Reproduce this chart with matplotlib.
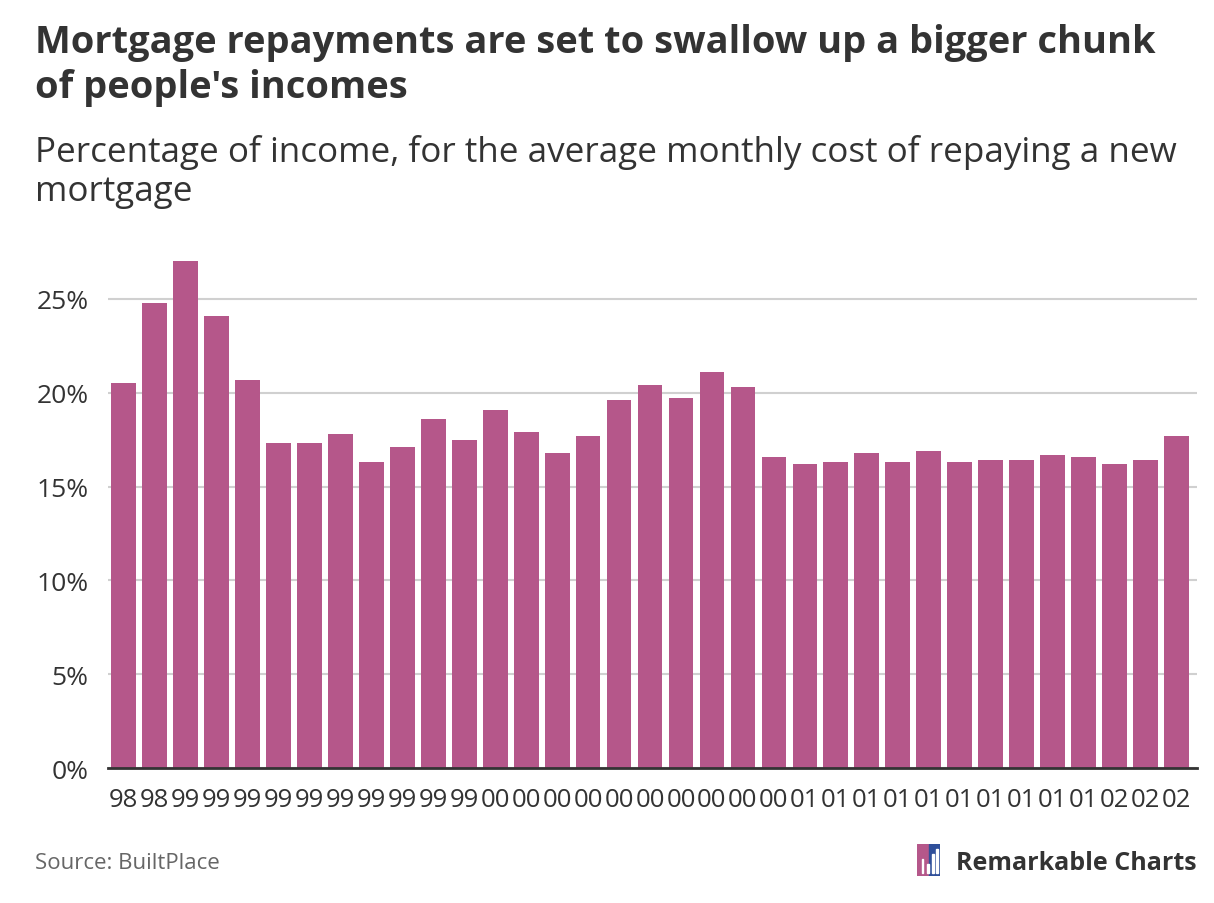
import matplotlib.pyplot as plt
from matplotlib.patches import Rectangle

# Data
years = list(range(1988, 2023))
year_labels = [str(y)[1:3] for y in years]
share = [20.5, 24.8, 27.0, 24.1, 20.7, 17.3, 17.3, 17.8, 16.3, 17.1,
         18.6, 17.5, 19.1, 17.9, 16.8, 17.7, 19.6, 20.4, 19.7, 21.1,
         20.3, 16.6, 16.2, 16.3, 16.8, 16.3, 16.9, 16.3, 16.4, 16.4,
         16.7, 16.6, 16.2, 16.4, 17.7]
y_ticks = [0, 5, 10, 15, 20, 25]

bar_color = '#b5578a'
text_color = '#333333'
font = 'Open Sans'

fig = plt.figure(figsize=(12.14, 9.04), dpi=100)
ax = fig.add_axes([0.089, 0.1493, 0.897, 0.5645])

x = list(range(len(share)))
ax.bar(x, share, width=0.8, color=bar_color, zorder=3)
ax.set_xlim(-0.5, len(share) - 0.34)
ax.set_ylim(0, 27.2)

ax.set_yticks(y_ticks)
ax.set_yticklabels([f'{t}%' for t in y_ticks], fontsize=19, color=text_color, family=font)
ax.set_xticks(x)
ax.set_xticklabels(year_labels, fontsize=18.5, color=text_color, family=font)
ax.tick_params(axis='both', length=0)
ax.tick_params(axis='y', pad=14)
ax.tick_params(axis='x', pad=14)
ax.grid(axis='y', color='#d0d0d0', linewidth=1.5, zorder=0)
for side in ['top', 'right', 'left']:
    ax.spines[side].set_visible(False)
ax.spines['bottom'].set_color(text_color)
ax.spines['bottom'].set_linewidth(2)
ax.spines['bottom'].set_zorder(4)

# Titles
fig.text(0.029, 0.973, "Mortgage repayments are set to swallow up a bigger chunk\nof people's incomes",
         fontsize=27.4, fontweight='bold', color=text_color, family=font, va='top', linespacing=1.22)
fig.text(0.029, 0.851, "Percentage of income, for the average monthly cost of repaying a new\nmortgage",
         fontsize=25.2, color=text_color, family=font, va='top', linespacing=1.22)

# Footer
fig.text(0.029, 0.045, "Source: BuiltPlace", fontsize=16, color='#666666', family=font, va='center')
fig.text(0.986, 0.045, "Remarkable Charts", fontsize=18, fontweight='bold', color=text_color,
         family=font, va='center', ha='right')

logo = fig.add_axes([917 / 1214, 1 - 877 / 904, 23 / 1214, 32 / 904])
logo.set_xlim(0, 1)
logo.set_ylim(0, 1)
logo.axis('off')
logo.add_patch(Rectangle((0, 0), 0.5, 1, color=bar_color))
logo.add_patch(Rectangle((0.5, 0), 0.5, 1, color='#2f4f9a'))
for bx, bh in zip([0.2, 0.42, 0.64, 0.84], [0.45, 0.3, 0.6, 0.75]):
    logo.add_patch(Rectangle((bx, 0.08), 0.08, bh, color='white'))

fig.savefig('out.png', dpi=100)
